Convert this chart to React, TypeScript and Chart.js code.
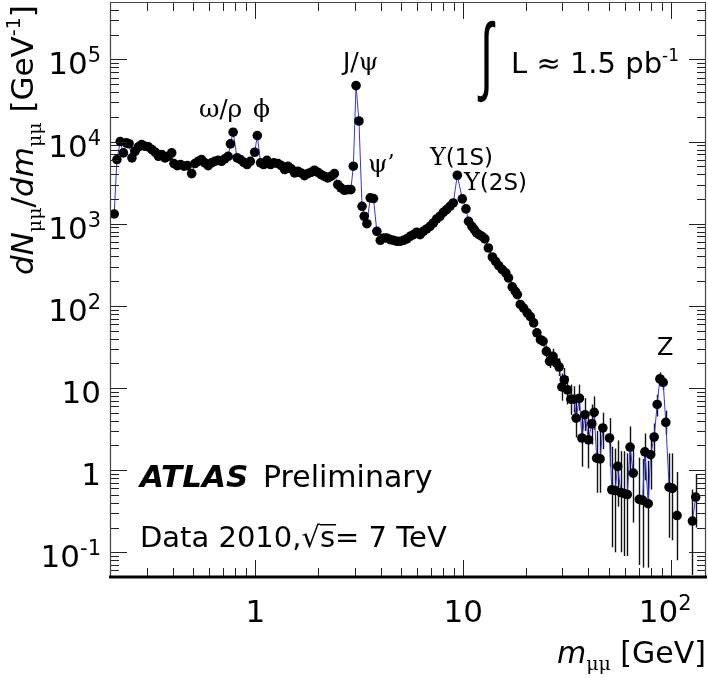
import React, { useEffect, useRef } from "react";
import { Chart, registerables } from "chart.js";

Chart.register(...registerables);

// ---- data: dN/dm (GeV^-1) vs dimuon invariant mass (GeV) ----
// low / intermediate mass bins (error bars smaller than the markers)
const bodyMass = [
  0.2, 0.2095, 0.216, 0.224, 0.232, 0.24, 0.247, 0.255, 0.264, 0.274,
  0.284, 0.295, 0.306, 0.318, 0.33, 0.342, 0.355, 0.368, 0.382, 0.396,
  0.406, 0.421, 0.437, 0.454, 0.471, 0.494, 0.512, 0.531, 0.551, 0.572,
  0.593, 0.615, 0.638, 0.662, 0.687, 0.713, 0.74, 0.759, 0.782, 0.817,
  0.848, 0.879, 0.912, 0.946, 0.993, 1.022, 1.06, 1.096, 1.137, 1.184,
  1.229, 1.285, 1.333, 1.383, 1.435, 1.489, 1.545, 1.603, 1.661, 1.723,
  1.788, 1.855, 1.924, 1.997, 2.07, 2.15, 2.23, 2.31, 2.4, 2.49,
  2.58, 2.68, 2.78, 2.88, 2.96, 3.05, 3.15, 3.26, 3.34, 3.44,
  3.57, 3.7, 3.84, 3.99, 4.14, 4.29, 4.45, 4.62, 4.79, 4.97,
  5.16, 5.35, 5.55, 5.76, 5.97, 6.2, 6.43, 6.67, 6.92, 7.18,
  7.45, 7.73, 8.02, 8.32, 8.63, 8.95, 9.36, 9.89, 10.3, 10.6,
  11.0, 11.3, 11.6, 11.9, 12.3, 12.7, 13.2, 13.8, 14.3, 14.8,
  15.4, 16.0, 16.5, 17.2, 17.8, 18.2, 18.8, 19.5, 20.3, 21.0,
  21.8, 22.6, 23.5,
];
const bodyRate = [
  0, 1315, 6040, 10000, 7280, 9640, 9400, 6330, 7620, 8610,
  9190, 8770, 8610, 7990, 7410, 6620, 6950, 6330, 6620, 7280,
  5400, 5100, 5250, 5010, 5100, 4075, 5400, 5750, 6040, 5500,
  5100, 5500, 5750, 5910, 5750, 6150, 6620, 9370, 13000, 6330,
  6040, 5600, 5250, 5750, 7410, 11830, 5500, 5250, 5910, 5250,
  5500, 5400, 5100, 4560, 5010, 4650, 4150, 4350, 4150, 3850,
  4075, 4230, 4480, 4230, 3960, 3780, 3610, 3780, 4075, 2995,
  2730, 2550, 2600, 2600, 5010, 48000, 17800, 1630, 1232, 1000,
  2060, 2025, 807, 628, 671, 671, 640, 628, 611, 611,
  628, 653, 703, 736, 787, 736, 809, 863, 929, 1020,
  1143, 1232, 1377, 1486, 1630, 1790, 3890, 2005, 1514, 1070,
  929, 847, 773, 736, 703, 653, 507, 393, 348, 309,
  276, 252, 219, 170, 150, 137, 104, 94, 82, 74,
  62, 47, 38.7,
];
// high mass tail with visible error bars
const tailMass = [
  24.2, 25.1, 26.0, 27.0, 28.0, 28.9, 29.8, 30.6, 31.7, 32.9,
  34.1, 34.9, 36.2, 37.2, 38.5, 40.0, 41.5, 42.6, 43.8, 45.5,
  46.9, 48.6, 50.5, 51.8, 53.7, 55.3, 57.3, 59.3, 61.5, 63.4,
  65.7, 67.8, 70.2, 72.8, 74.7, 77.5, 79.6, 82.8, 85.6, 88.2,
  91.5, 94.2, 97.7, 101.4, 103.5, 106.7, 110.6, 114.3, 118.1, 122.1,
  126.5, 131.2, 135.6, 140.2,
];
const tailRate = [
  37, 27.9, 21.1, 24.3, 20.2, 18.0, 10.3, 12.6, 9.5, 7.3,
  7.3, 4.3, 7.5, 2.46, 4.73, 2.34, 3.67, 5.05, 1.4, 1.37,
  3.26, 0, 2.46, 0.577, 0.565, 1.11, 0.534, 0.52, 0.505, 1.91,
  0.92, 0, 0.44, 0.43, 1.67, 0.39, 1.54, 2.53, 6.3, 12.9,
  11.7, 3.81, 0.62, 0.6, 0, 0.28, 0, 0, 0, 0,
  0.24, 0.47, 0, 0,
];
const tailErrLow = [
  32, 23.5, 17.5, 19.5, 16, 14, 7, 9, 6.3, 4.7,
  5, 2.5, 5.3, 1.1, 3, 1.05, 2.05, 3.1, 0.53, 0.53,
  1.8, null, 1.1, 0.115, 0.1, 0.36, 0.1, 0.09, 0.09, 0.92,
  0.23, null, 0.07, 0.065, 0.75, 0.065, 0.58, 1.5, 4.5, 10.5,
  9.4, 2.7, 0.15, 0.14, null, 0.08, null, null, null, null,
  0.053, 0.2, null, null,
];
const tailErrHigh = [
  43, 33, 25.5, 30, 26, 23, 15, 17.5, 14, 11,
  10.5, 7.2, 11, 4.7, 7.5, 4.3, 6.3, 7.9, 3, 3.1,
  5, null, 4.3, 1.93, 1.83, 2.3, 1.7, 1.7, 1.6, 3.4,
  2, null, 1.42, 1.37, 2.8, 1.3, 2.7, 3.7, 8.3, 15.5,
  14.2, 5.3, 1.6, 1.6, null, 0.95, null, null, null, null,
  0.58, 0.9, null, null,
];

const X_MIN = 0.2;
const X_MAX = 147;
const Y_MIN = 0.05;
const Y_MAX = 5e5;

const yTickValues = [0.1, 1, 10, 100, 1000, 10000, 100000];
const yTickBase = ["10", "1", "10", "10", "10", "10", "10"];
const yTickExp = ["-1", "", "", "2", "3", "4", "5"];
const xTickValues = [1, 10, 100];
const xTickBase = ["1", "10", "10"];
const xTickExp = ["", "", "2"];

const SANS = '"DejaVu Sans", "Liberation Sans", sans-serif';
const SERIF = '"DejaVu Serif", "Liberation Serif", serif';

type Run = { t: string; f: string; dy?: number };

function runsWidth(ctx: CanvasRenderingContext2D, runs: Run[]) {
  let w = 0;
  for (const r of runs) {
    ctx.font = r.f;
    w += ctx.measureText(r.t).width;
  }
  return w;
}

function drawRuns(
  ctx: CanvasRenderingContext2D,
  runs: Run[],
  x: number,
  y: number,
  align: "left" | "right" | "center" = "left"
) {
  const w = runsWidth(ctx, runs);
  let cx = align === "right" ? x - w : align === "center" ? x - w / 2 : x;
  const starts: number[] = [];
  for (const r of runs) {
    ctx.font = r.f;
    starts.push(cx);
    ctx.fillText(r.t, cx, y + (r.dy || 0));
    cx += ctx.measureText(r.t).width;
  }
  starts.push(cx);
  return starts;
}

const decorPlugin = {
  id: "atlasDecor",
  beforeDatasetsDraw(chart: any) {
    const { ctx, chartArea: a, scales } = chart;
    const xs = scales.x;
    const ys = scales.y;
    ctx.save();
    ctx.beginPath();
    ctx.rect(a.left, a.top, a.right - a.left, a.bottom - a.top);
    ctx.clip();
    ctx.strokeStyle = "#111";
    ctx.lineWidth = 1.4;
    tailMass.forEach((m, i) => {
      const lo = tailErrLow[i];
      const hi = tailErrHigh[i];
      if (lo == null || hi == null) return;
      const px = Math.round(xs.getPixelForValue(m)) + 0.5;
      ctx.beginPath();
      ctx.moveTo(px, ys.getPixelForValue(lo));
      ctx.lineTo(px, ys.getPixelForValue(hi));
      ctx.stroke();
    });
    ctx.restore();
  },
  afterDatasetsDraw(chart: any) {
    const { ctx, chartArea: a, scales } = chart;
    const xs = scales.x;
    const ys = scales.y;
    ctx.save();
    // ticks (inside frame, both sides)
    ctx.strokeStyle = "#222";
    ctx.lineWidth = 1;
    const seg = (x1: number, y1: number, x2: number, y2: number) => {
      ctx.beginPath();
      ctx.moveTo(x1, y1);
      ctx.lineTo(x2, y2);
      ctx.stroke();
    };
    for (let d = -2; d <= 5; d++) {
      for (let k = 1; k <= 9; k++) {
        const v = k * Math.pow(10, d);
        if (v < Y_MIN * 0.999 || v > Y_MAX * 1.001) continue;
        const py = Math.round(ys.getPixelForValue(v)) + 0.5;
        const len = k === 1 ? 17 : 9;
        seg(a.left, py, a.left + len, py);
        seg(a.right, py, a.right - len, py);
      }
    }
    for (let d = -1; d <= 2; d++) {
      for (let k = 1; k <= 9; k++) {
        const v = k * Math.pow(10, d);
        if (v <= X_MIN * 1.001 || v >= X_MAX) continue;
        const px = Math.round(xs.getPixelForValue(v)) + 0.5;
        const len = k === 1 ? 17 : 9;
        seg(px, a.bottom, px, a.bottom - len);
        seg(px, a.top, px, a.top + len);
      }
    }
    // frame
    ctx.strokeStyle = "#444";
    ctx.lineWidth = 1.2;
    seg(a.left + 0.5, a.top, a.left + 0.5, a.bottom);
    seg(a.left, a.top + 0.5, a.right, a.top + 0.5);
    seg(a.right - 0.5, a.top, a.right - 0.5, a.bottom);
    ctx.fillStyle = "#000";
    ctx.fillRect(a.left - 1, a.bottom - 1.5, a.right - a.left + 2, 3);
    ctx.restore();
  },
  afterDraw(chart: any) {
    const { ctx, chartArea: a, scales } = chart;
    const xs = scales.x;
    const ys = scales.y;
    ctx.save();
    ctx.fillStyle = "#000";
    ctx.textBaseline = "alphabetic";
    ctx.textAlign = "left";

    // y tick labels
    yTickValues.forEach((v, i) => {
      const py = ys.getPixelForValue(v);
      const runs: Run[] = [{ t: yTickBase[i], f: `31px ${SANS}` }];
      if (yTickExp[i]) runs.push({ t: yTickExp[i], f: `21px ${SANS}`, dy: -12 });
      drawRuns(ctx, runs, a.left - 9, py + 15, "right");
    });
    // x tick labels
    xTickValues.forEach((v, i) => {
      const px = xs.getPixelForValue(v);
      const runs: Run[] = [{ t: xTickBase[i], f: `31px ${SANS}` }];
      if (xTickExp[i]) runs.push({ t: xTickExp[i], f: `21px ${SANS}`, dy: -12 });
      const shift = xTickExp[i] ? -6 : 0;
      drawRuns(ctx, runs, px + shift, a.bottom + 45, "center");
    });

    // x axis title
    drawRuns(
      ctx,
      [
        { t: "m", f: `italic 30px ${SANS}` },
        { t: "μμ", f: `19px ${SERIF}`, dy: 7 },
        { t: " [GeV]", f: `30px ${SANS}` },
      ],
      a.right,
      663,
      "right"
    );

    // y axis title (rotated)
    ctx.save();
    ctx.translate(33, 275);
    ctx.rotate(-Math.PI / 2);
    drawRuns(ctx, [
      { t: "dN", f: `italic 31px ${SANS}` },
      { t: "μμ", f: `19px ${SERIF}`, dy: 8 },
      { t: "/", f: `31px ${SANS}` },
      { t: "dm", f: `italic 31px ${SANS}` },
      { t: "μμ", f: `19px ${SERIF}`, dy: 8 },
      { t: " [GeV", f: `31px ${SANS}` },
      { t: "-1", f: `19px ${SANS}`, dy: -13 },
      { t: "]", f: `31px ${SANS}` },
    ], 0, 0);
    ctx.restore();

    // resonance labels
    drawRuns(ctx, [
      { t: "ω", f: `25px ${SERIF}` },
      { t: "/", f: `24px ${SANS}` },
      { t: "ρ", f: `25px ${SERIF}` },
    ], 199, 117);
    drawRuns(ctx, [{ t: "ϕ", f: `25px ${SERIF}` }], 253, 117);
    drawRuns(ctx, [
      { t: "J/", f: `25px ${SANS}` },
      { t: "ψ", f: `25px ${SERIF}` },
    ], 343, 70);
    drawRuns(ctx, [
      { t: "ψ", f: `25px ${SERIF}` },
      { t: "’", f: `22px ${SERIF}`, dy: -2 },
    ], 368, 172);
    drawRuns(ctx, [
      { t: "Υ", f: `24px ${SERIF}` },
      { t: "(1S)", f: `23px ${SANS}` },
    ], 430, 165);
    drawRuns(ctx, [
      { t: "Υ", f: `24px ${SERIF}` },
      { t: "(2S)", f: `23px ${SANS}` },
    ], 464, 190);
    drawRuns(ctx, [{ t: "Z", f: `24px ${SANS}` }], 657, 355);

    // luminosity: slim, tall integral sign
    ctx.save();
    ctx.translate(480, 84);
    ctx.scale(0.55, 1);
    ctx.font = `86px "Liberation Sans", ${SANS}`;
    ctx.fillText("∫", 0, 0);
    ctx.restore();
    drawRuns(ctx, [
      { t: "L ≈ 1.5 pb", f: `29px ${SANS}` },
      { t: "-1", f: `17px ${SANS}`, dy: -12 },
    ], 511, 73);

    // ATLAS Preliminary
    drawRuns(ctx, [{ t: "ATLAS", f: `italic bold 31px ${SANS}` }], 140, 487);
    drawRuns(ctx, [{ t: "Preliminary", f: `30px ${SANS}` }], 263, 487);

    // Data 2010, sqrt(s) = 7 TeV
    const st = drawRuns(ctx, [
      { t: "Data 2010,", f: `29px ${SANS}` },
      { t: "√", f: `29px ${SANS}` },
      { t: "s", f: `29px ${SANS}` },
      { t: "= 7 TeV", f: `29px ${SANS}` },
    ], 140, 547);
    ctx.fillRect(st[2], 524, st[3] - st[2] + 1, 1.5);

    ctx.restore();
  },
};

export default function App() {
  const canvasRef = useRef<HTMLCanvasElement | null>(null);

  useEffect(() => {
    const canvas = canvasRef.current;
    if (!canvas) return;
    const points = [
      ...bodyMass.map((m, i) => ({ x: m, y: bodyRate[i] })),
      ...tailMass.map((m, i) => ({ x: m, y: tailRate[i] })),
    ];
    const chart = new Chart(canvas, {
      type: "scatter",
      data: {
        datasets: [
          {
            data: points,
            showLine: true,
            borderColor: "#3434e6",
            borderWidth: 1,
            backgroundColor: "#000",
            pointBackgroundColor: "#000",
            pointBorderWidth: 0,
            pointRadius: (c: any) => (c.raw && c.raw.y > 0 ? 4.8 : 0),
            pointHoverRadius: 0,
            tension: 0,
          },
        ],
      },
      options: {
        responsive: false,
        devicePixelRatio: 1,
        animation: false,
        events: [],
        layout: { padding: { left: 110, right: 2, top: 2, bottom: 101 } },
        plugins: { legend: { display: false }, tooltip: { enabled: false } },
        scales: {
          x: { type: "logarithmic", min: X_MIN, max: X_MAX, display: false },
          y: { type: "logarithmic", min: Y_MIN, max: Y_MAX, display: false },
        },
      },
      plugins: [decorPlugin],
    } as any);
    return () => chart.destroy();
  }, []);

  return (
    <div style={{ position: "absolute", left: 0, top: 0, width: 708, height: 678, background: "#fff" }}>
      <canvas ref={canvasRef} width={708} height={678} style={{ width: 708, height: 678, display: "block" }} />
    </div>
  );
}
